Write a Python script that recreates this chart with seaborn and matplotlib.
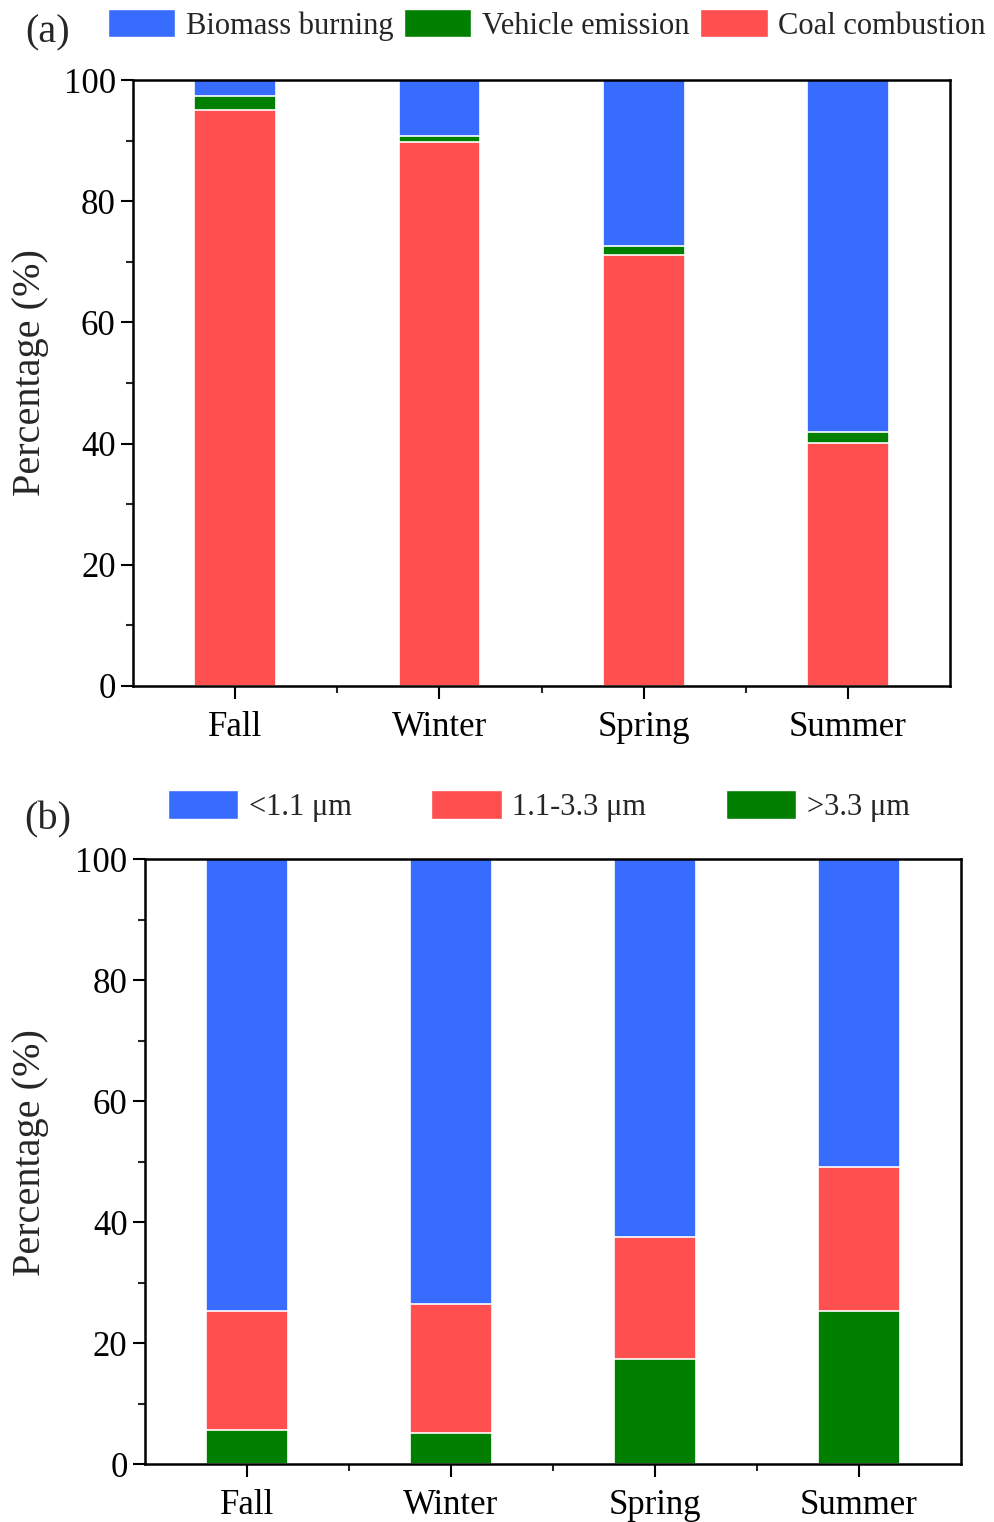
import matplotlib
matplotlib.use("Agg")
import matplotlib.pyplot as plt
import seaborn as sns
import pandas as pd
import numpy as np
from matplotlib.ticker import MultipleLocator
from matplotlib.patches import Patch

seasons = ["Fall", "Winter", "Spring", "Summer"]

# panel (a): source contributions (%)
coal = [95.0, 89.7, 71.2, 40.1]
vehicle = [2.4, 1.0, 1.4, 1.8]
biomass = [2.6, 9.3, 27.4, 58.1]

# panel (b): size distribution (%)
coarse = [5.6, 5.1, 17.4, 25.3]      # >3.3 um
mid = [19.7, 21.3, 20.1, 23.8]       # 1.1-3.3 um
fine = [74.7, 73.6, 62.5, 50.9]      # <1.1 um

BLUE = "#386cff"
GREEN = "#007f00"
RED = "#ff4f4f"

sns.set_theme(style="ticks")
plt.rcParams["font.family"] = ["Liberation Serif", "DejaVu Serif"]


def stacked(ax, layers, colors):
    # draw cumulative totals from the top down so each layer overlays the next
    cum = np.cumsum(np.array(layers), axis=0)
    for heights, col in reversed(list(zip(cum, colors))):
        df = pd.DataFrame({"season": seasons, "value": heights})
        sns.barplot(data=df, x="season", y="value", color=col, width=0.4,
                    edgecolor="white", linewidth=1.2, saturation=1, ax=ax)
    ax.set_xlim(-0.5, 3.5)
    ax.set_ylim(0, 100)
    ax.set_xlabel("")
    ax.set_ylabel("Percentage (%)", fontsize=29)
    ax.yaxis.set_major_locator(MultipleLocator(20))
    ax.yaxis.set_minor_locator(MultipleLocator(10))
    ax.set_xticks(np.arange(0.5, 3, 1), minor=True)
    ax.tick_params(axis="both", which="major", direction="out", length=9,
                   width=1.5, labelsize=25, colors="black")
    ax.tick_params(axis="x", which="major", pad=9)
    ax.tick_params(axis="both", which="minor", direction="out", length=5, width=1.5)
    for sp in ax.spines.values():
        sp.set_visible(True)
        sp.set_linewidth(1.8)
        sp.set_color("black")


fig = plt.figure(figsize=(9.95, 15.22), dpi=100)
ax1 = fig.add_axes([0.1337, 0.5493, 0.8211, 0.3981])
ax2 = fig.add_axes([0.1457, 0.0381, 0.8201, 0.3975])

stacked(ax1, [coal, vehicle, biomass], [RED, GREEN, BLUE])
stacked(ax2, [coarse, mid, fine], [GREEN, RED, BLUE])
ax1.yaxis.set_label_coords(-0.103, 0.518)
ax2.yaxis.set_label_coords(-0.118, 0.515)

h1 = [Patch(facecolor=c, edgecolor="white") for c in (BLUE, GREEN, RED)]
fig.legend(h1, ["Biomass burning", "Vehicle emission", "Coal combustion"],
           loc="center left", bbox_to_anchor=(108 / 995, 1 - 25 / 1522), ncol=3,
           frameon=False, fontsize=22, handlelength=2.2, handleheight=1.0,
           handletextpad=0.35, columnspacing=0.35, borderpad=0, borderaxespad=0)

h2 = [Patch(facecolor=c, edgecolor="white") for c in (BLUE, RED, GREEN)]
fig.legend(h2, ["<1.1 μm", "1.1-3.3 μm", ">3.3 μm"],
           loc="center left", bbox_to_anchor=(168 / 995, 1 - 806 / 1522), ncol=3,
           frameon=False, fontsize=22, handlelength=2.3, handleheight=1.05,
           handletextpad=0.35, columnspacing=2.6, borderpad=0, borderaxespad=0)

fig.text(48 / 995, 1 - 33 / 1522, "(a)", fontsize=29, ha="center", va="center")
fig.text(48 / 995, 1 - 820 / 1522, "(b)", fontsize=29, ha="center", va="center")

fig.savefig("out.png", dpi=100)
plt.close(fig)
